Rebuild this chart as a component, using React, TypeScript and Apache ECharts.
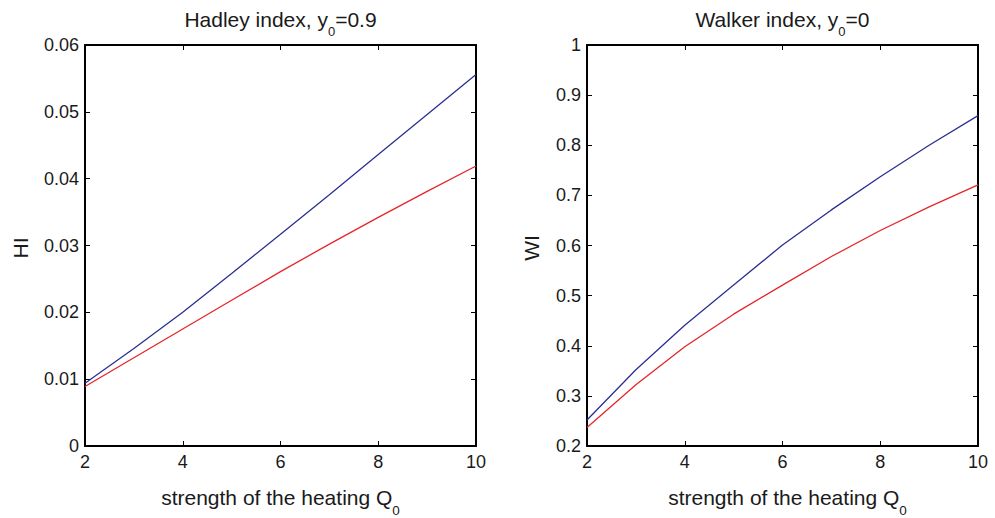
import React, { useEffect, useRef } from "react";
import * as echarts from "echarts";

const xValues = [2, 3, 4, 5, 6, 7, 8, 9, 10];
const hadleyBlue = [0.0094, 0.0146, 0.0200, 0.0258, 0.0317, 0.0376, 0.0436, 0.0496, 0.0556];
const hadleyRed = [0.0089, 0.0132, 0.0175, 0.0218, 0.0261, 0.0302, 0.0342, 0.0381, 0.0419];
const walkerBlue = [0.252, 0.352, 0.441, 0.521, 0.601, 0.671, 0.737, 0.8, 0.859];
const walkerRed = [0.237, 0.322, 0.398, 0.463, 0.521, 0.578, 0.63, 0.677, 0.721];

const leftTitle = "Hadley index, y";
const leftTitleSub = "0";
const leftTitleRest = "=0.9";
const rightTitle = "Walker index, y";
const rightTitleSub = "0";
const rightTitleRest = "=0";
const xName = "strength of the heating Q";
const xNameSub = "0";
const leftYName = "HI";
const rightYName = "WI";

const FONT = "'Liberation Sans', Arial, Helvetica, sans-serif";
const BLUE = "#2b2f92";
const RED = "#e5262b";
const TEXT = "#1a1a1a";

const G = [
  { left: 85, top: 45, width: 391, height: 401 },
  { left: 587, top: 45, width: 391, height: 401 },
];

function pair(d: number[]) {
  return xValues.map((x, i) => [x, d[i]]);
}

export default function App() {
  const ref = useRef<HTMLDivElement>(null);
  useEffect(() => {
    if (!ref.current) return;
    const chart = echarts.init(ref.current, undefined, { renderer: "svg" });

    const xAxisBase = (grid: number, pos: "bottom" | "top") => ({
      type: "value",
      gridIndex: grid,
      position: pos,
      min: 2,
      max: 10,
      interval: 2,
      axisLine: { show: true, onZero: false, lineStyle: { color: "#000", width: 2 } },
      axisTick: { show: true, inside: true, length: 5, lineStyle: { color: "#000", width: 1 } },
      axisLabel: {
        show: pos === "bottom",
        color: TEXT,
        fontSize: 18,
        fontFamily: FONT,
        margin: 7,
      },
      splitLine: { show: false },
    });
    const yAxisBase = (
      grid: number,
      pos: "left" | "right",
      min: number,
      max: number,
      interval: number
    ) => ({
      type: "value",
      gridIndex: grid,
      position: pos,
      min,
      max,
      interval,
      axisLine: { show: true, onZero: false, lineStyle: { color: "#000", width: 2 } },
      axisTick: { show: true, inside: true, length: 5, lineStyle: { color: "#000", width: 1 } },
      axisLabel: {
        show: pos === "left",
        color: TEXT,
        fontSize: 18,
        fontFamily: FONT,
        margin: 6,
      },
      splitLine: { show: false },
    });

    const richTitle = {
      m: { fontSize: 21, lineHeight: 21, fontFamily: FONT, color: TEXT },
      s: { fontSize: 13, lineHeight: 13, fontFamily: FONT, padding: [24, 0, 0, 0], color: TEXT },
    };
    const richName = {
      m: { fontSize: 21, lineHeight: 21, fontFamily: FONT, color: TEXT },
      s: { fontSize: 13.5, lineHeight: 13.5, fontFamily: FONT, padding: [26, 0, 0, 0], color: TEXT },
    };

    const cx0 = G[0].left + G[0].width / 2;
    const cx1 = G[1].left + G[1].width / 2;

    chart.setOption({
      animation: false,
      backgroundColor: "#fff",
      grid: G,
      xAxis: [xAxisBase(0, "bottom"), xAxisBase(0, "top"), xAxisBase(1, "bottom"), xAxisBase(1, "top")],
      yAxis: [
        yAxisBase(0, "left", 0, 0.06, 0.01),
        yAxisBase(0, "right", 0, 0.06, 0.01),
        yAxisBase(1, "left", 0.2, 1, 0.1),
        yAxisBase(1, "right", 0.2, 1, 0.1),
      ],
      series: [
        { type: "line", xAxisIndex: 0, yAxisIndex: 0, data: pair(hadleyBlue), showSymbol: false, lineStyle: { color: BLUE, width: 1.3 }, itemStyle: { color: BLUE } },
        { type: "line", xAxisIndex: 0, yAxisIndex: 0, data: pair(hadleyRed), showSymbol: false, lineStyle: { color: RED, width: 1.3 }, itemStyle: { color: RED } },
        { type: "line", xAxisIndex: 2, yAxisIndex: 2, data: pair(walkerBlue), showSymbol: false, lineStyle: { color: BLUE, width: 1.3 }, itemStyle: { color: BLUE } },
        { type: "line", xAxisIndex: 2, yAxisIndex: 2, data: pair(walkerRed), showSymbol: false, lineStyle: { color: RED, width: 1.3 }, itemStyle: { color: RED } },
      ],
      graphic: [
        {
          type: "text",
          x: cx0,
          y: 19.5,
          style: {
            text: `{m|${leftTitle}}{s|${leftTitleSub}}{m|${leftTitleRest}}`,
            rich: richTitle,
            align: "center",
            verticalAlign: "middle",
            fill: TEXT,
          },
        },
        {
          type: "text",
          x: cx1,
          y: 19.5,
          style: {
            text: `{m|${rightTitle}}{s|${rightTitleSub}}{m|${rightTitleRest}}`,
            rich: richTitle,
            align: "center",
            verticalAlign: "middle",
            fill: TEXT,
          },
        },
        {
          type: "text",
          x: cx0,
          y: 497.5,
          style: {
            text: `{m|${xName}}{s|${xNameSub}}`,
            rich: richName,
            align: "center",
            verticalAlign: "middle",
            fill: TEXT,
          },
        },
        {
          type: "text",
          x: cx1 + 5,
          y: 497.5,
          style: {
            text: `{m|${xName}}{s|${xNameSub}}`,
            rich: richName,
            align: "center",
            verticalAlign: "middle",
            fill: TEXT,
          },
        },
        {
          type: "text",
          x: 20,
          y: 248,
          rotation: Math.PI / 2,
          style: { text: leftYName, fontSize: 21, fontFamily: FONT, fill: TEXT, align: "center", verticalAlign: "middle" },
        },
        {
          type: "text",
          x: 531,
          y: 248,
          rotation: Math.PI / 2,
          style: { text: rightYName, fontSize: 21, fontFamily: FONT, fill: TEXT, align: "center", verticalAlign: "middle" },
        },
      ],
    });
    return () => chart.dispose();
  }, []);
  return (
    <div
      ref={ref}
      style={{ position: "fixed", left: 0, top: 0, width: 995, height: 518, background: "#fff" }}
    />
  );
}
